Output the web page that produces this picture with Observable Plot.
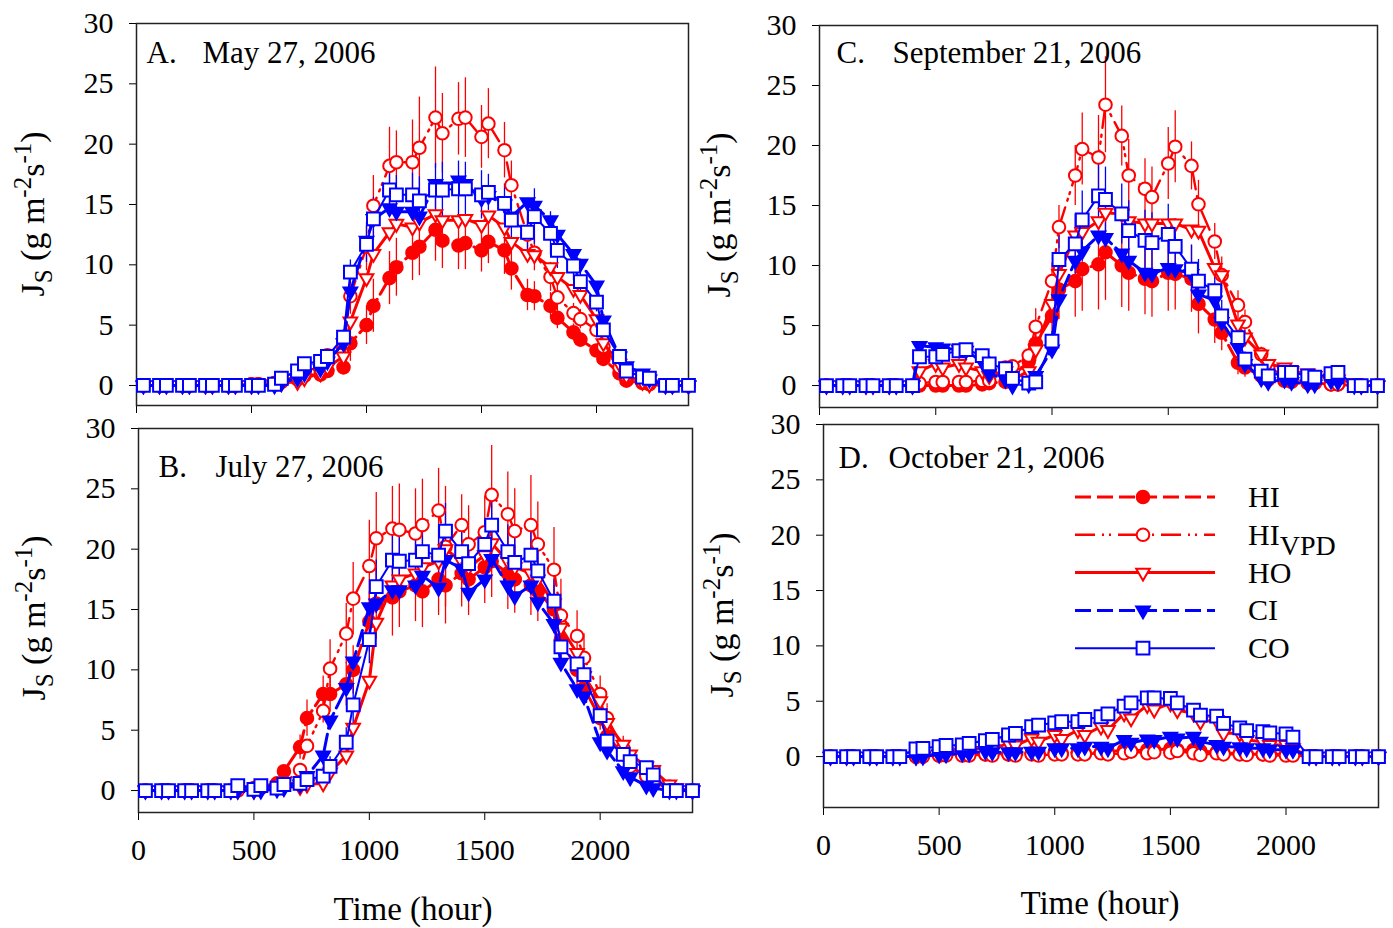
<!DOCTYPE html>
<html><head><meta charset="utf-8">
<script src="https://cdn.jsdelivr.net/npm/d3@7"></script>
<script src="https://cdn.jsdelivr.net/npm/@observablehq/plot@0.6"></script>
<style>
html,body{margin:0;padding:0;background:#fff;}
#fig{position:relative;width:1393px;height:928px;background:#fff;overflow:hidden;}
#fig svg{position:absolute;left:0;top:0;overflow:visible;}
</style></head><body><div id="fig"></div>
<script>
// ---------------- data ----------------
const hours = [30,100,130,200,230,300,330,400,430,500,530,600,630,700,730,800,830,900,930,1000,1030,1100,1130,1200,1230,1300,1330,1400,1430,1500,1530,1600,1630,1700,1730,1800,1830,1900,1930,2000,2030,2100,2130,2200,2230,2300,2330,2400];
const xTicks = [0,500,1000,1500,2000];
const yTicks = [0,5,10,15,20,25,30];
const seriesNames = ["HI","HIVPD","HO","CI","CO"];
const panelLetters = ["A.","B.","C.","D."];
const panelDates = ["May 27, 2006","July 27, 2006","September 21, 2006","October 21, 2006"];
const xTitle = "Time (hour)";

// Panel A: May 27, 2006
const hiA    = [0,0,0,0,0,0,0,0, 0,0.1,0.1,0.2,0.3,0.5,0.8,0.9, 1.2,1.5,3.5,5.0,6.6,8.9,9.8,11.0, 11.5,12.9,12.0,11.6,11.8,11.2,11.9,11.2, 9.7,7.5,7.4,6.6,5.6,4.4,3.8,2.9, 2.2,1.0,0.4,0.2,0.1,0,0,0];
const hivpdA = [0,0,0,0,0,0,0,0, 0,0.1,0.1,0.2,0.3,0.8,1.2,1.5, 2.5,3.5,7.4,11.5,14.9,18.2,18.5,18.5, 19.7,22.2,20.9,22.1,22.2,20.6,21.7,19.5, 16.6,12.5,11.0,9.0,7.3,6.0,5.5,4.6, 3.2,1.5,0.8,0.3,0.2,0,0,0];
const hoA    = [0,0,0,0,0,0,0,0, 0,0,0.1,0.1,0.2,0.3,0.6,1.0, 1.5,2.4,5.3,8.9,10.9,12.7,13.4,13.1, 13.5,14.2,13.7,13.7,13.8,13.3,14.1,13.1, 11.9,10.9,10.8,9.8,9.0,8.0,7.5,5.5, 3.5,1.8,0.8,0.3,0.1,0,0,0];
const ciA    = [0,0,0,0,0,0,0,0, 0,0,0,0,0.2,0.6,1.0,1.4, 2.0,3.5,7.8,12.0,13.8,14.7,14.4,14.4, 14.0,16.7,16.5,17.0,16.7,15.5,15.7,15.0, 14.0,15.2,14.9,13.7,12.5,10.9,10.1,8.3, 5.4,2.4,1.6,1.0,0.5,0,0,0];
const coA    = [0,0,0,0,0,0,0,0, 0,0,0,0.1,0.6,1.2,1.8,2.0, 2.4,4.0,9.4,11.7,13.8,16.2,15.8,15.8, 15.3,16.2,16.2,16.3,16.3,15.8,16.0,15.1, 13.7,12.7,14.0,12.6,11.2,9.9,8.6,6.9, 4.6,2.4,1.2,0.7,0.6,0,0,0];
const errHiA    = [0,0,0,0,0,0,0,0, 0,0,0,0,0,0.2,0.3,0.3, 0.4,0.6,1.5,1.6,2.2,2.2,2.4,2.3, 2.4,2.6,2.3,2.0,2.2,1.8,1.8,2.0, 1.8,1.3,1.2,1.1,0.9,0.7,0.6,0.5, 0.4,0.2,0.1,0,0,0,0,0];
const errHivpdA = [0,0,0,0,0,0,0,0, 0,0,0,0,0,0.1,0.2,0.3, 0.5,1.0,1.5,2.0,2.5,3.2,2.6,3.5, 4.2,4.2,3.3,3.0,3.3,2.6,2.9,2.3, 2.0,1.5,1.5,1.2,1.0,0.8,0.8,0.6, 0.5,0.3,0.2,0,0,0,0,0];
const errCoA    = [0,0,0,0,0,0,0,0, 0,0,0,0,0.1,0.2,0.3,0.3, 0.3,0.6,1.0,1.5,1.8,1.5,1.6,1.8, 2.0,2.2,2.3,2.3,2.2,2.0,1.5,1.6, 1.8,2.0,2.3,1.8,1.5,1.2,1.0,0.8, 0.6,0.4,0.2,0,0,0,0,0];

// Panel B: July 27, 2006
const hiB    = [0,0,0,0,0,0,0,0, 0.1,0.2,0.3,0.6,1.6,3.6,6.0,8.0, 8.0,8.8,10.0,14.0,15.5,16.0,16.5,17.0, 16.5,17.5,17.0,18.0,17.5,18.5,19.0,18.0, 17.5,17.0,16.5,15.0,12.5,10.0,8.5,6.0, 4.5,3.0,2.0,1.2,0.7,0.2,0,0];
const hivpdB = [0,0,0,0,0,0,0,0, 0,0.1,0.2,0.4,0.6,1.7,3.7,6.6, 10.1,13.0,15.9,18.6,20.9,21.7,21.6,21.3, 22.0,23.2,20.2,22.0,20.4,21.4,24.5,22.9, 21.5,22.0,20.4,18.3,14.5,12.8,11.0,8.0, 6.0,3.5,2.0,1.2,0.7,0.3,0,0];
const hoB    = [0,0,0,0,0,0,0,0, 0,0,0.1,0.2,0.3,0.3,0.5,0.6, 1.5,2.9,5.2,9.1,13.9,17.0,17.5,18.0, 18.5,19.0,20.0,19.0,18.5,19.5,20.5,19.0, 18.5,18.0,17.5,15.5,13.5,11.4,9.5,7.4, 5.6,3.8,3.0,2.0,1.7,0.5,0.2,0];
const ciB    = [0,0,0,0,0,0,0,0, 0,0,0,0.1,0.2,0.5,1.2,2.9, 5.8,8.5,10.7,15.2,15.5,16.6,16.6,17.0, 17.8,16.8,19.1,18.4,16.4,17.5,19.2,17.0, 16.1,17.0,15.6,13.8,10.6,8.4,7.8,4.0, 3.3,1.6,1.1,0.4,0.2,0,0,0];
const coB    = [0,0,0,0,0,0,0,0, 0.4,0.1,0.4,0.2,0.5,0.6,0.9,1.2, 2.0,4.0,7.1,12.5,16.9,19.1,19.0,19.1, 19.8,19.5,21.5,19.8,18.8,20.4,22.0,19.8, 18.9,19.5,18.2,15.7,11.9,10.5,9.6,6.2, 4.1,3.0,2.4,1.9,1.3,0,0,0];
const errHiB    = [0,0,0,0,0,0,0,0, 0,0,0,0.1,0.5,1.0,1.5,1.5, 1.5,1.8,2.0,2.5,3.0,3.2,3.0,3.0, 3.0,3.0,3.2,2.8,3.0,3.0,3.0,3.0, 2.8,2.5,2.5,2.0,1.8,1.5,1.2,1.0, 0.8,0.5,0.3,0.2,0.1,0,0,0];
const errHivpdB = [0,0,0,0,0,0,0,0, 0,0,0,0.1,0.2,0.4,0.5,1.0, 2.4,2.5,3.0,3.8,3.8,3.5,3.8,3.7, 3.8,3.5,5.0,2.5,3.2,3.0,4.1,3.5, 3.5,4.1,3.5,3.5,3.0,2.1,2.0,1.5, 1.2,1.0,0.5,0.3,0.2,0,0,0];
const errCoB    = [0,0,0,0,0,0,0,0, 0,0,0,0,0.1,0.2,0.3,0.5, 0.8,1.2,1.8,2.0,2.2,2.0,2.2,2.0, 2.2,2.5,2.3,2.0,2.2,2.0,2.5,2.2, 2.0,2.2,2.0,1.8,1.5,1.2,1.0,0.8, 0.6,0.4,0.3,0.2,0.1,0,0,0];

// Panel C: September 21, 2006
const hiC    = [0,0,0,0,0,0,0,0, 0,0,0,0,0,0.1,0.2,0.3, 0.8,2.0,3.5,5.8,8.0,8.7,9.7,10.1, 11.1,10.0,9.4,8.9,8.7,9.4,9.3,8.9, 6.8,5.5,4.4,1.9,1.5,0.8,0.5,0.4, 0.3,0.2,0.2,0.1,0.1,0,0,0];
const hivpdC = [0,0,0,0,0,0,0,0, 0.2,0.3,0.3,0.3,0.3,0.4,0.4,1.5, 1.6,2.5,4.9,8.7,13.2,17.5,19.7,19.0, 23.4,20.8,17.5,16.4,15.7,18.5,19.9,18.3, 15.1,12.0,9.2,6.7,5.3,2.6,1.5,0.8, 0.5,0.3,0.2,0.1,0.1,0,0,0];
const hoC    = [0,0,0,0,0,0,0,0, 1.2,1.8,1.5,1.8,1.5,1.2,0.8,1.2, 0.5,1.2,3.0,6.8,9.3,12.5,12.8,13.7, 14.4,14.3,13.7,13.5,13.5,13.5,13.5,13.0, 12.9,9.8,9.2,5.1,4.0,2.6,1.8,1.5, 1.2,1.0,0.8,0.6,0.5,0.2,0,0];
const ciC    = [0,0,0,0,0,0,0,0, 3.3,3.2,3.1,3.0,2.9,2.0,1.0,0.5, 0,0.1,0.8,3.0,7.2,10.4,11.2,12.5, 12.3,11.0,10.4,9.4,9.3,9.8,9.7,9.3, 7.6,7.1,5.3,3.2,1.8,0.6,0.3,0.5, 0.3,0.1,0.1,0.4,0.3,0,0,0];
const coC    = [0,0,0,0,0,0,0,0, 2.4,2.4,2.6,2.9,3.0,2.5,1.8,1.4, 0.6,0.2,0.3,3.7,10.5,11.8,13.8,15.8, 15.5,14.3,12.9,12.1,11.9,12.6,11.6,9.7, 8.7,7.9,5.8,4.0,2.2,1.2,0.8,1.1, 1.1,0.8,0.7,1.0,1.1,0,0,0];
const errHiC    = [0,0,0,0,0,0,0,0, 0,0,0,0,0,0,0.1,0.2, 0.4,1.0,1.5,2.0,2.5,3.0,3.5,3.8, 4.0,3.5,3.2,3.0,3.0,3.2,3.0,2.8, 2.5,2.0,1.5,1.0,0.8,0.4,0.3,0.2, 0.2,0.1,0.1,0,0,0,0,0];
const errHivpdC = [0,0,0,0,0,0,0,0, 0,0,0,0,0,0,0.2,0.5, 0.5,1.0,1.5,1.5,1.8,2.5,3.0,3.5, 4.0,2.5,3.0,2.5,2.5,3.0,3.0,2.0, 2.0,1.5,1.5,1.2,1.0,0.6,0.4,0.3, 0.2,0.1,0.1,0,0,0,0,0];
const errCoC    = [0,0,0,0,0,0,0,0, 0.3,0.3,0.3,0.3,0.3,0.3,0.2,0.2, 0.1,0.1,0.2,0.8,2.0,2.5,2.4,2.7, 2.7,2.5,2.5,2.5,2.5,2.5,2.3,2.0, 1.8,1.6,1.3,1.0,0.6,0.3,0.2,0.2, 0.2,0.2,0.1,0.1,0.1,0,0,0];

// Panel D: October 21, 2006
const hiD    = [0,0,0,0,0,0,0,0, 0.1,0.1,0.2,0.2,0.2,0.2,0.3,0.2, 0.3,0.3,0.3,0.4,0.3,0.4,0.3,0.4, 0.4,0.6,0.5,0.6,0.6,0.7,0.6,0.6, 0.5,0.4,0.3,0.3,0.2,0.2,0.2,0.2, 0.2,0,0,0,0,0,0,0];
const hivpdD = [0,0,0,0,0,0,0,0, 0,0.1,0.1,0.1,0.1,0.2,0.1,0.2, 0.1,0.2,0.1,0.2,0.2,0.2,0.2,0.3, 0.2,0.3,0.45,0.3,0.4,0.35,0.5,0.3, 0.15,0.3,0.2,0.2,0.15,0.2,0.1,0.1, 0.1,0,0,0,0,0,0,0];
const hoD    = [0,0,0,0,0,0,0,0, 0.1,0.2,0.4,0.6,0.5,0.9,0.7,1.2, 1.0,1.65,1.35,1.95,1.6,2.4,1.95,2.7, 2.4,3.9,3.45,4.65,4.25,4.8,4.2,3.9, 3.15,3.3,2.1,2.1,1.5,1.35,1.05,1.05, 0.75,0,0,0,0,0,0,0];
const ciD    = [0,0,0,0,0,0,0,0, 0,0.2,0.2,0.3,0.3,0.5,0.4,0.4, 0.4,0.45,0.45,0.75,0.75,0.75,0.9,0.9, 0.75,1.5,1.25,1.55,1.5,1.8,1.65,1.8, 1.35,1.05,0.9,0.85,0.75,0.75,0.65,0.6, 0.6,0,0,0,0,0,0,0];
const coD    = [0,0,0,0,0,0,0,0.7, 0.75,0.9,1.0,1.05,1.2,1.45,1.55,1.95, 2.1,2.7,2.85,3.05,3.15,3.15,3.35,3.6, 3.85,4.55,4.85,5.3,5.3,5.25,4.85,4.2, 3.75,3.65,3.0,2.6,2.35,2.25,2.15,2.05, 1.75,0,0,0,0,0,0,0];

// ---------------- styling ----------------
const FONT = '"Liberation Serif","Times New Roman",serif';
const RED = "#ff0000", BLUE = "#0000ff";
const triDown = {draw(ctx, size) {
  const r = Math.sqrt(size / Math.PI), a = 2.2 * r, h = a * Math.sqrt(3) / 2;
  ctx.moveTo(-a / 2, -h / 3); ctx.lineTo(a / 2, -h / 3); ctx.lineTo(0, 2 * h / 3); ctx.closePath();
}};
const squareSym = {draw(ctx, size) {
  const r = Math.sqrt(size / Math.PI);
  ctx.moveTo(-r, -r); ctx.lineTo(r, -r); ctx.lineTo(r, r); ctx.lineTo(-r, r); ctx.closePath();
}};
const styles = {
  HI:    {color: RED,  dash: "16,6",            width: 3,   symbol: "circle", fill: RED,     r: 6.3},
  HIVPD: {color: RED,  dash: "20,7,2,5,2,7",    width: 2.4, symbol: "circle", fill: "white", r: 6.3},
  HO:    {color: RED,  dash: null,              width: 3,   symbol: triDown,  fill: "white", r: 6.2},
  CI:    {color: BLUE, dash: "16,6",            width: 3,   symbol: triDown,  fill: BLUE,    r: 6.2},
  CO:    {color: BLUE, dash: null,              width: 2,   symbol: squareSym, fill: "white", r: 6.4}
};

const panels = [
  {vals: {HI: hiA, HIVPD: hivpdA, HO: hoA, CI: ciA, CO: coA}, err: {HI: errHiA, HIVPD: errHivpdA, CO: errCoA},
   mL: 136, mR: 705, mT: 23, mB: 523, yMin: -1.66, xLabels: false, ylab: [44, 214], tl: [10, 39], td: 66},
  {vals: {HI: hiB, HIVPD: hivpdB, HO: hoB, CI: ciB, CO: coB}, err: {HI: errHiB, HIVPD: errHivpdB, CO: errCoB},
   mL: 138, mR: 701, mT: 428, mB: 116, yMin: -1.82, xLabels: true, ylab: [45, 618], tl: [20, 48], td: 77, xlab: [413, 920]},
  {vals: {HI: hiC, HIVPD: hivpdC, HO: hoC, CI: ciC, CO: coC}, err: {HI: errHiC, HIVPD: errHivpdC, CO: errCoC},
   mL: 819, mR: 16, mT: 25, mB: 521, yMin: -1.83, xLabels: false, ylab: [730, 215], tl: [17, 37], td: 73},
  {vals: {HI: hiD, HIVPD: hivpdD, HO: hoD, CI: ciD, CO: coD}, err: {},
   mL: 823, mR: 15, mT: 424, mB: 121, yMin: -4.6, xLabels: true, ylab: [733, 615], tl: [15, 43], td: 65, xlab: [1100, 914], legend: true}
];

const fig = document.getElementById("fig");

function addYLabel(svg, x, y) {
  const t = d3.select(svg).append("text")
    .attr("transform", `translate(${x},${y}) rotate(-90)`)
    .attr("text-anchor", "middle").attr("font-family", FONT).attr("font-size", 34).attr("fill", "black");
  t.append("tspan").text("J");
  t.append("tspan").attr("font-size", 25).attr("dy", 8).text("S");
  t.append("tspan").attr("dy", -8).text(" (g m");
  t.append("tspan").attr("font-size", 25).attr("dy", -13).text("-2");
  t.append("tspan").attr("dy", 13).text("s");
  t.append("tspan").attr("font-size", 25).attr("dy", -13).text("-1");
  t.append("tspan").attr("dy", 13).text(")");
}

function addLegend(svg, p) {
  const g = d3.select(svg).append("g");
  const left = p.mL, top = p.mT;
  seriesNames.forEach((name, i) => {
    const s = styles[name];
    const y = top + 73 + i * 37.8;
    g.append("line").attr("x1", left + 252).attr("x2", left + 392).attr("y1", y).attr("y2", y)
      .attr("stroke", s.color).attr("stroke-width", s.width).attr("stroke-dasharray", s.dash);
    const sym = typeof s.symbol === "string" ? d3.symbolCircle : s.symbol;
    g.append("path").attr("d", d3.symbol(sym, Math.PI * s.r * s.r)())
      .attr("transform", `translate(${left + 320},${y})`)
      .attr("fill", s.fill).attr("stroke", s.color).attr("stroke-width", 2);
    const t = g.append("text").attr("x", left + 425).attr("y", y + 10).attr("text-anchor", "start")
      .attr("font-family", FONT).attr("font-size", 30).attr("fill", "black");
    if (name === "HIVPD") {
      t.append("tspan").text("HI");
      t.append("tspan").attr("dy", 10).attr("font-size", 28).text("VPD");
    } else t.text(name);
  });
}

panels.forEach((p, k) => {
  const rows = [];
  seriesNames.forEach(name => hours.forEach((t, i) =>
    rows.push({t, v: p.vals[name][i], e: p.err[name] ? p.err[name][i] : 0, s: name})));
  const marks = [Plot.frame({stroke: "#222", strokeWidth: 1.5})];
  seriesNames.forEach(name => {
    const d = rows.filter(r => r.s === name && r.e > 0);
    if (d.length) marks.push(Plot.ruleX(d, {x: "t", y1: r => r.v - r.e, y2: r => r.v + r.e,
      stroke: styles[name].color, strokeWidth: 1.3}));
  });
  seriesNames.forEach(name => {
    const s = styles[name];
    const d = rows.filter(r => r.s === name);
    marks.push(Plot.line(d, {x: "t", y: "v", stroke: s.color, strokeWidth: s.width,
      strokeDasharray: s.dash || undefined, strokeLinejoin: "round"}));
    marks.push(Plot.dot(d, {x: "t", y: "v", symbol: s.symbol, r: s.r, fill: s.fill,
      stroke: s.color, strokeWidth: 2}));
  });
  marks.push(Plot.text([panelLetters[k]], {text: d => d, frameAnchor: "top-left", dx: p.tl[0], dy: p.tl[1],
    lineAnchor: "bottom", textAnchor: "start", fontSize: 31, fill: "black"}));
  marks.push(Plot.text([panelDates[k]], {text: d => d, frameAnchor: "top-left", dx: p.td, dy: p.tl[1],
    lineAnchor: "bottom", textAnchor: "start", fontSize: 31, fill: "black"}));

  const svg = Plot.plot({
    width: 1393, height: 928,
    marginLeft: p.mL, marginRight: p.mR, marginTop: p.mT, marginBottom: p.mB,
    x: {domain: [0, 2400], ticks: xTicks, tickSize: 8, tickPadding: 18, label: null,
        tickFormat: p.xLabels ? (d => String(d)) : (() => "")},
    y: {domain: [p.yMin, 30], ticks: yTicks, tickSize: 7, tickPadding: 16, label: null,
        tickFormat: d => String(d)},
    style: {fontFamily: FONT, fontSize: "30px", color: "black", background: "none", overflow: "visible"},
    marks
  });
  addYLabel(svg, p.ylab[0], p.ylab[1]);
  if (p.xlab) {
    d3.select(svg).append("text").attr("x", p.xlab[0]).attr("y", p.xlab[1])
      .attr("text-anchor", "middle").attr("font-family", FONT).attr("font-size", 33).attr("fill", "black")
      .text(xTitle);
  }
  if (p.legend) addLegend(svg, p);
  fig.appendChild(svg);
});
</script>
</body></html>
